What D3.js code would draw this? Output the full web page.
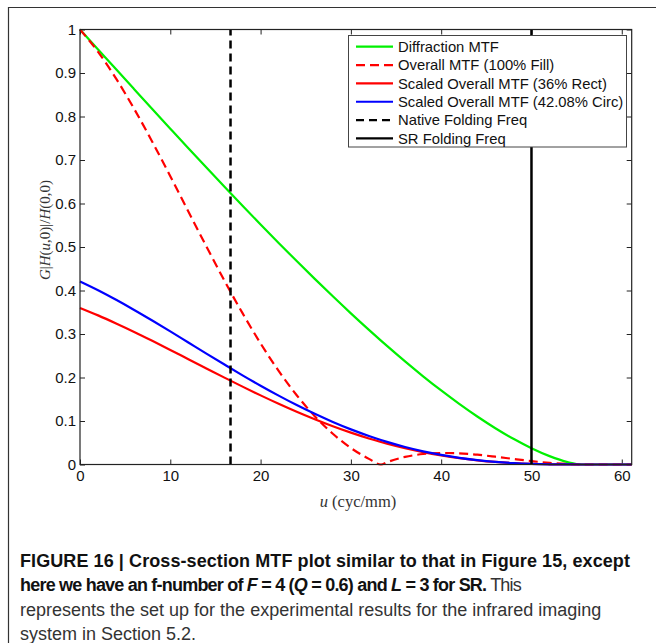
<!DOCTYPE html>
<html>
<head>
<meta charset="utf-8">
<title>Figure 16 - Cross-section MTF</title>
<script src="https://d3js.org/d3.v7.min.js"></script>
<style>
body { margin: 0; background: #fff; }
svg text { font-family: "Liberation Sans", Arial, Helvetica, sans-serif; }
.tick text { font-size: 15px; fill: #111; }
.tick line { stroke: #222; }
.axis-label { font-family: "Liberation Serif", "DejaVu Serif", serif; fill: #333; }
.legend-text { font-size: 14.8px; fill: #111; }
.caption { font-size: 18px; fill: #333; }
.caption .b { font-weight: bold; fill: #111; }
</style>
</head>
<body>
<div id="chart"></div>
<script>

// spatial frequency samples, cyc/mm
var freq = [0, 2, 4, 6, 8, 10, 12, 14, 16, 18, 20, 22, 24, 26, 28, 30, 32, 33.33, 34, 36,
            38, 40, 42, 44, 46, 48, 50, 52, 54, 55.56, 58, 61.1];

// values
var diffraction = [1, 0.9542, 0.9084, 0.8628, 0.8173, 0.7721, 0.7271, 0.6826, 0.6384, 0.5948,
                   0.5517, 0.5093, 0.4676, 0.4267, 0.3866, 0.3475, 0.3095, 0.2848, 0.2726, 0.2370,
                   0.2028, 0.1702, 0.1393, 0.1103, 0.0834, 0.0590, 0.0374, 0.0192, 0.0056, 0, 0, 0];
var overallFill = [1, 0.9486, 0.8870, 0.8175, 0.7420, 0.6628, 0.5817, 0.5011, 0.4225, 0.3479,
                   0.2784, 0.2152, 0.1593, 0.1110, 0.0706, 0.0380, 0.0129, 0, 0.0053, 0.0174,
                   0.0241, 0.0265, 0.0257, 0.0225, 0.0179, 0.0128, 0.0079, 0.0038, 0.0010, 0, 0, 0];
var scaledRect = [0.36, 0.3428, 0.3242, 0.3047, 0.2843, 0.2634, 0.2421, 0.2209, 0.1997, 0.1790,
                  0.1589, 0.1396, 0.1212, 0.1040, 0.0879, 0.0732, 0.0598, 0.0517, 0.0479, 0.0375,
                  0.0285, 0.0209, 0.0146, 0.0097, 0.0059, 0.0032, 0.0015, 0.0005, 0.0001, 0, 0, 0];
var scaledCirc = [0.4208, 0.4006, 0.3786, 0.3553, 0.3310, 0.3060, 0.2805, 0.2550, 0.2298, 0.2050,
                  0.1811, 0.1583, 0.1366, 0.1164, 0.0977, 0.0807, 0.0655, 0.0563, 0.0520, 0.0402,
                  0.0303, 0.0220, 0.0152, 0.0100, 0.0060, 0.0032, 0.0014, 0.0005, 0.0001, 0, 0, 0];

// folding frequencies
var nativeFold = 16.67;
var srFold = 50;

var xTicks = [0, 10, 20, 30, 40, 50, 60];
var yTicks = [0, 0.1, 0.2, 0.3, 0.4, 0.5, 0.6, 0.7, 0.8, 0.9, 1];

var legendLabels = ["Diffraction MTF", "Overall MTF (100% Fill)", "Scaled Overall MTF (36% Rect)",
                    "Scaled Overall MTF (42.08% Circ)", "Native Folding Freq", "SR Folding Freq"];

// ---- setup
var W = 656, H = 643;
var svg = d3.select("#chart").append("svg")
    .attr("width", W)
    .attr("height", H);

// figure frame (top + left rule)
svg.append("path")
  .attr("d", "M8.5," + H + "V7.5H" + W)
  .attr("fill", "none")
  .attr("stroke", "#333")
  .attr("stroke-width", 1.2);

var plot = {left: 80, right: 631.7, top: 29.5, bottom: 464.5};

var x = d3.scaleLinear().domain([0, 61.1]).range([plot.left, plot.right]);
var y = d3.scaleLinear().domain([0, 1]).range([plot.bottom, plot.top]);

// axes, MATLAB style: ticks inward, on all four sides
var fmt = function(d) { return String(d); };

svg.append("g")
  .attr("transform", "translate(0," + plot.bottom + ")")
  .call(d3.axisBottom(x).tickValues(xTicks).tickSize(-5).tickPadding(6).tickFormat(fmt));
svg.append("g")
  .attr("transform", "translate(0," + plot.top + ")")
  .call(d3.axisTop(x).tickValues(xTicks).tickSize(-5).tickFormat(""));
svg.append("g")
  .attr("transform", "translate(" + plot.left + ",0)")
  .call(d3.axisLeft(y).tickValues(yTicks).tickSize(-5).tickPadding(4).tickFormat(fmt));
svg.append("g")
  .attr("transform", "translate(" + plot.right + ",0)")
  .call(d3.axisRight(y).tickValues(yTicks).tickSize(-5).tickFormat(""));

svg.selectAll(".domain").remove();
svg.selectAll(".tick text").attr("font-family", null).attr("font-size", null);

// ---- curves
var line = d3.line()
    .x(function(d) { return x(d[0]); })
    .y(function(d) { return y(d[1]); })
    .curve(d3.curveMonotoneX);

function pairs(vals) {
  return freq.map(function(f, i) { return [f, vals[i]]; });
}

var green = "#00f000";
var series = [
  {vals: diffraction, color: green, dash: null},
  {vals: overallFill, color: "#ff0000", dash: "9,5"},
  {vals: scaledRect, color: "#ff0000", dash: null},
  {vals: scaledCirc, color: "#0000ff", dash: null}
];

series.forEach(function(s) {
  svg.append("path")
    .datum(pairs(s.vals))
    .attr("d", line)
    .attr("fill", "none")
    .attr("stroke", s.color)
    .attr("stroke-width", 2.2)
    .attr("stroke-dasharray", s.dash);
});

// folding frequency markers
svg.append("line")
  .attr("x1", x(nativeFold)).attr("x2", x(nativeFold))
  .attr("y1", y(0)).attr("y2", y(1))
  .attr("stroke", "#000").attr("stroke-width", 2.5)
  .attr("stroke-dasharray", "8,5");
svg.append("line")
  .attr("x1", x(srFold)).attr("x2", x(srFold))
  .attr("y1", y(0)).attr("y2", y(1))
  .attr("stroke", "#000").attr("stroke-width", 2.5);

// box
svg.append("rect")
  .attr("x", plot.left).attr("y", plot.top)
  .attr("width", plot.right - plot.left)
  .attr("height", plot.bottom - plot.top)
  .attr("fill", "none")
  .attr("stroke", "#222")
  .attr("stroke-width", 1.2);

// ---- axis labels
var yl = svg.append("text")
  .attr("class", "axis-label")
  .attr("font-size", "15px")
  .attr("text-anchor", "middle")
  .attr("transform", "translate(50,230) rotate(-90)");
[["G", 1], ["|", 0], ["H", 1], ["(", 0], ["u", 1], [",0)|/", 0], ["H", 1], ["(0,0)", 0]].forEach(function(p) {
  yl.append("tspan").attr("font-style", p[1] ? "italic" : null).text(p[0]);
});

var xl = svg.append("text")
  .attr("class", "axis-label")
  .attr("font-size", "16.5px")
  .attr("text-anchor", "middle")
  .attr("x", 358).attr("y", 507);
xl.append("tspan").attr("font-style", "italic").text("u");
xl.append("tspan").text(" (cyc/mm)");

// ---- legend
var legend = svg.append("g").attr("transform", "translate(348.5,35.5)");
legend.append("rect")
  .attr("width", 278).attr("height", 111.5)
  .attr("fill", "#fff")
  .attr("stroke", "#444");

var legendStyle = [
  {color: green, dash: null}, {color: "#ff0000", dash: "9,5"}, {color: "#ff0000", dash: null},
  {color: "#0000ff", dash: null}, {color: "#000", dash: "8,5"}, {color: "#000", dash: null}
];

var items = legend.selectAll(".legend-item")
  .data(legendLabels)
  .enter().append("g")
  .attr("class", "legend-item")
  .attr("transform", function(d, i) { return "translate(0," + (11.2 + i * 18.35) + ")"; });

items.append("line")
  .attr("x1", 7.5).attr("x2", 44.5)
  .attr("stroke", function(d, i) { return legendStyle[i].color; })
  .attr("stroke-width", 2.2)
  .attr("stroke-dasharray", function(d, i) { return legendStyle[i].dash; });

items.append("text")
  .attr("class", "legend-text")
  .attr("x", 49.5)
  .attr("dy", "0.36em")
  .text(function(d) { return d; });

// ---- caption
var cap = svg.append("g").attr("class", "caption");
var lines = [
  [["FIGURE 16 | Cross-section MTF plot similar to that in Figure 15, except", "b"]],
  [["here we have an f-number of ", "b"], ["F", "bi"], [" = 4 (", "b"], ["Q", "bi"], [" = 0.6) and ", "b"],
   ["L", "bi"], [" = 3 for SR.", "b"], [" This", ""]],
  [["represents the set up for the experimental results for the infrared imaging", ""]],
  [["system in Section 5.2.", ""]]
];
// right edge of the two bold lines in the reference (others left as set)
var lineEnds = [630, 521, null, null];

lines.forEach(function(parts, i) {
  var t = cap.append("text").attr("x", 20).attr("y", 567 + i * 24.3);
  var n = 0;
  parts.forEach(function(p) {
    var s = t.append("tspan").text(p[0]);
    n += p[0].length;
    if (p[1].indexOf("b") >= 0) s.attr("class", "b");
    if (p[1].indexOf("i") >= 0) s.attr("font-style", "italic");
  });
  if (lineEnds[i] == null) return;
  // nudge letter spacing so the line ends where the printed one does
  var w = t.node().getComputedTextLength();
  t.style("letter-spacing", ((lineEnds[i] - 20 - w) / n) + "px");
});

</script>
</body>
</html>
